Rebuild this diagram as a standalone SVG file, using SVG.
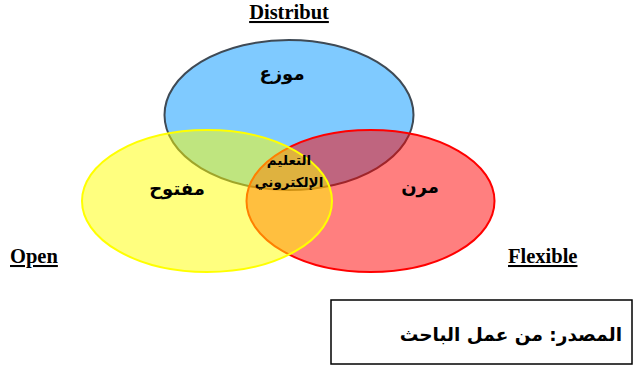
<svg xmlns="http://www.w3.org/2000/svg" width="635" height="366" viewBox="0 0 635 366">
<style>
.en{font-family:"Liberation Serif",serif;font-weight:bold;font-size:20.5px;text-decoration:underline;fill:#000}
.ar{font-family:"DejaVu Sans",sans-serif;font-weight:bold;fill:#000;text-anchor:middle}
.c{fill-opacity:0.5;stroke-width:2}
</style>
<rect width="635" height="366" fill="#fff"/>
<g id="blue"><ellipse class="c" cx="289" cy="115" rx="124.5" ry="75" fill="#0095FF" stroke="#3F4A55"/></g>
<g id="red"><ellipse class="c" cx="370.5" cy="201" rx="124" ry="71" fill="#FF0000" stroke="#FF0000"/></g>
<g id="yellow"><ellipse class="c" cx="207" cy="201" rx="125" ry="71" fill="#FFFF00" stroke="#FFFF00"/></g>
<g id="labels">
<text class="ar" x="282" y="80" font-size="18">موزع</text>
<text class="ar" x="177" y="195" font-size="18">مفتوح</text>
<text class="ar" x="420" y="193" font-size="18">مرن</text>
<text class="ar" x="289" y="165" font-size="13.5">التعليم</text>
<text class="ar" x="289" y="187" font-size="13.5">الإلكتروني</text>
</g>
<g id="eng">
<text class="en" x="289" y="19" text-anchor="middle">Distribut</text>
<text class="en" x="10" y="263">Open</text>
<text class="en" x="508" y="263">Flexible</text>
</g>
<g id="source">
<rect x="331" y="300" width="301" height="64" fill="#fff" stroke="#000" stroke-width="1.5"/>
<text class="ar" x="622" y="341" font-size="18.5" style="text-anchor:end">المصدر: من عمل الباحث</text>
</g>
</svg>
